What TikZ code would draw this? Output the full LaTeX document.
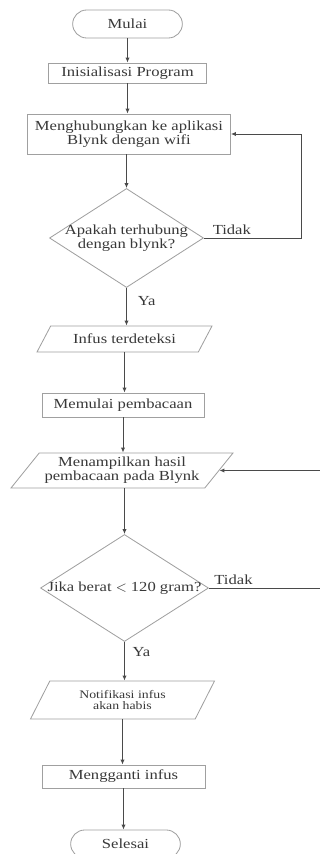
\documentclass[tikz,border=0pt]{standalone}
\usepackage{fontspec}
\setmainfont{Liberation Serif}[FakeStretch=1.2]
\usepackage{tikz}
\usetikzlibrary{shapes.geometric, shapes.misc, arrows.meta, positioning}

\definecolor{garis}{HTML}{4A4A4A}
\definecolor{kotak}{HTML}{A0A0A0}
\definecolor{teks}{HTML}{383838}

\tikzset{
	tulisan/.style={text=teks, font=\fontsize{8.3}{8.6}\selectfont},
	terminal/.style={rounded rectangle, draw=kotak, line width=0.5pt, tulisan,
		minimum width=67.8pt, minimum height=16.8pt, inner sep=1pt},
	proses/.style={rectangle, draw=kotak, line width=0.5pt, tulisan, align=center,
		inner xsep=2pt, inner ysep=1pt},
	io/.style={trapezium, trapezium stretches body, draw=kotak, line width=0.5pt,
		tulisan, align=center, inner sep=1pt},
	keputusan/.style={diamond, draw=kotak, line width=0.5pt, tulisan, align=center,
		inner xsep=-18pt, inner ysep=0pt},
	panah/.style={draw=garis, line width=0.6pt, -{Latex[length=3pt,width=2.6pt]}},
	ket/.style={tulisan, inner sep=0pt}
}

\begin{document}
\begin{tikzpicture}[x=0.6pt, y=-0.6pt]
		\useasboundingbox (0,0) rectangle (320,854);
		
		% Nodes
		\node[terminal] (mulai) at (127.5,24) {Mulai};
		\node[proses, minimum width=94.8pt, minimum height=12pt] (init) at (127.5,73) {Inisialisasi Program};
		\node[proses, minimum width=121.8pt, minimum height=24pt] (hubung) at (129,134)
			{Menghubungkan ke aplikasi\\Blynk dengan wifi};
		\node[keputusan, minimum width=92.4pt, minimum height=59.4pt] (cek1) at (126.5,238)
			{Apakah terhubung\\dengan blynk?};
		\node[io, trapezium left angle=44, trapezium right angle=136,
			minimum width=105pt, minimum height=15.6pt] (deteksi) at (124.5,339) {Infus terdeteksi};
		\node[proses, minimum width=97.2pt, minimum height=14.4pt] (baca) at (123,405) {Memulai pembacaan};
		\node[io, trapezium left angle=47, trapezium right angle=133,
			minimum width=133.2pt, minimum height=21pt] (tampil) at (122,470.5)
			{Menampilkan hasil\\pembacaan pada Blynk};
		\node[keputusan, inner xsep=-22pt, minimum width=100.8pt, minimum height=64.2pt] (cek2) at (124.5,588)
			{Jika berat $<$ 120 gram?};
		\node[io, trapezium left angle=49, trapezium right angle=131,
			minimum width=110.4pt, minimum height=22.8pt,
			font=\fontsize{6.9}{6.4}\selectfont] (notif) at (122.5,700)
			{Notifikasi infus\\akan habis};
		\node[proses, minimum width=97.8pt, minimum height=13.8pt] (ganti) at (123.5,776.5) {Mengganti infus};
		\node[terminal] (selesai) at (125.5,844) {Selesai};
		
		% Right side
		\coordinate (kanan) at (301,0);
		\coordinate (tepi) at (320,0);
		
		% Arrows
		\draw[panah] (mulai.south) -- (mulai.south |- init.north);
		\draw[panah] (init.south) -- (init.south |- hubung.north);
		\draw[panah] (hubung.south -| cek1) -- (cek1.north);
		\draw[panah] (cek1.south) -- node[ket, right=6.5pt, pos=.35] {Ya} (cek1.south |- deteksi.north);
		\draw[panah] (deteksi.south) -- (deteksi.south |- baca.north);
		\draw[panah] (baca.south) -- (baca.south |- tampil.north);
		\draw[panah] (tampil.south -| cek2) -- (cek2.north);
		\draw[panah] (cek2.south) -- node[ket, right=4.5pt, pos=.26] {Ya} (cek2.south |- notif.north);
		\draw[panah] (notif.south) -- (notif.south |- ganti.north);
		\draw[panah] (ganti.south) -- (ganti.south |- selesai.north);
		
		% Tidak loops
		\draw[panah] (cek1.east) -- node[ket, pos=0, above right, xshift=5pt, yshift=1.5pt] {Tidak}
			(cek1.east -| kanan) |- (hubung.east);
		\draw[draw=garis, line width=0.6pt] (cek2.east) -- node[ket, pos=0, above right, xshift=3pt, yshift=1.5pt] {Tidak}
			(cek2.east -| tepi);
		\draw[panah] (tampil.east -| tepi) -- (tampil.east);
		
	\end{tikzpicture}
\end{document}
